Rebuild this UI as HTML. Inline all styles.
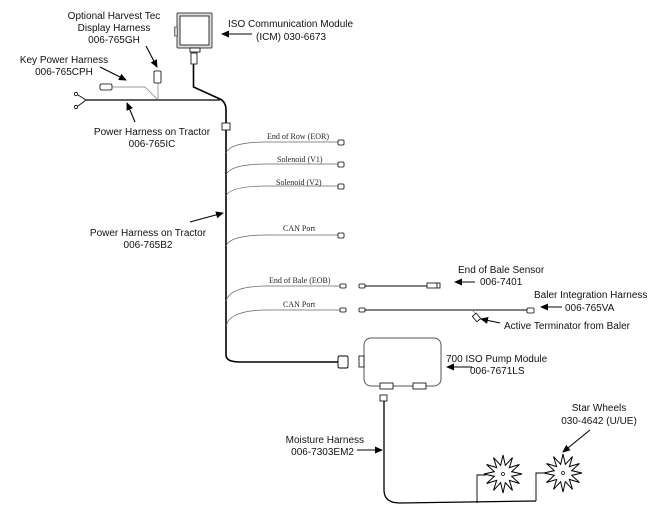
<!DOCTYPE html>
<html><head><style>
html,body{margin:0;padding:0;background:#fff;}
svg{display:block}
.s{font-family:"Liberation Sans",Arial,sans-serif;font-size:10px;fill:#111}
.r{font-family:"Liberation Serif",serif;font-size:8px;fill:#222}
</style></head><body>
<svg width="654" height="513" viewBox="0 0 654 513" xmlns="http://www.w3.org/2000/svg">
<defs>
<marker id="a" markerWidth="8" markerHeight="8" refX="7" refY="4" orient="auto" markerUnits="userSpaceOnUse">
<path d="M0,0.5 L8,4 L0,7.5 z" fill="#000"/></marker>
<polygon id="st" points="19,0 8.69,2.33 16.45,9.5 6.36,6.36 9.5,16.45 2.33,8.69 0,19 -2.33,8.69 -9.5,16.45 -6.36,6.36 -16.45,9.5 -8.69,2.33 -19,0 -8.69,-2.33 -16.45,-9.5 -6.36,-6.36 -9.5,-16.45 -2.33,-8.69 0,-19 2.33,-8.69 9.5,-16.45 6.36,-6.36 16.45,-9.5 8.69,-2.33" fill="#fff" stroke="#000" stroke-width="1"/>
</defs>
<g fill="none" stroke="#000">
<rect x="177" y="13" width="35" height="35" fill="#ddd" stroke="#444" rx="1"/>
<rect x="180" y="16" width="29" height="29" fill="#fff" stroke="#333"/>
<rect x="174.5" y="27" width="3" height="9" fill="#ccc" stroke="#444" stroke-width="0.7"/>
<rect x="190" y="48" width="10" height="4" fill="#fff" stroke-width="0.8"/>
<rect x="191" y="53" width="6" height="11" fill="#fff" stroke-width="0.8"/>
<path d="M193.5,64 V87 L220,99 Q226,102 226,110 V355 Q226,362 240,362 H338" stroke-width="1.6"/>
<path d="M86,100 H220" stroke-width="1.3"/>
<path d="M86,100 L78,95 M86,100 L78,106" stroke-width="0.8"/>
<circle cx="76" cy="94" r="1.7" stroke-width="0.8"/><circle cx="76" cy="107" r="1.7" stroke-width="0.8"/>
<rect x="100" y="84" width="12" height="6" rx="1.5" fill="#fff" stroke-width="0.8"/>
<path d="M112,87 H145 L158,100 M158,83 V100" stroke="#777" stroke-width="0.7"/>
<rect x="154" y="71" width="7" height="12" rx="1" fill="#fff" stroke-width="0.8"/>
<rect x="222" y="123" width="8" height="7" fill="#fff" stroke-width="0.8"/>
<g stroke="#666" stroke-width="0.7">
<path d="M226,153 Q230,142 267,142 H338"/>
<path d="M226,175 Q230,164 267,164 H338"/>
<path d="M226,196 Q230,186 267,186 H338"/>
<path d="M226,246 Q230,235 267,235 H338"/>
<path d="M226,301 Q230,286 267,286 H340"/>
<path d="M226,326 Q230,310 267,310 H340"/>
</g>
<g fill="#fff" stroke-width="0.8">
<rect x="338" y="140" width="6" height="5" rx="1"/>
<rect x="338" y="162" width="6" height="5" rx="1"/>
<rect x="338" y="184" width="6" height="5" rx="1"/>
<rect x="338" y="233" width="6" height="5" rx="1"/>
<rect x="340" y="284" width="6" height="4" rx="1"/>
<rect x="340" y="308" width="6" height="4" rx="1"/>
<rect x="359" y="284" width="6" height="4" rx="1"/>
<rect x="359" y="308" width="6" height="4" rx="1"/>
</g>
<path d="M365,286 H427 M365,310 H527" stroke-width="0.9"/>
<rect x="427" y="283" width="13" height="5" fill="#fff" stroke-width="0.8"/>
<line x1="437" y1="283" x2="437" y2="288" stroke-width="0.8"/>
<rect x="527" y="308" width="7" height="5" rx="1" fill="#fff" stroke-width="0.8"/>
<path d="M472,310 L477,315" stroke="#777" stroke-width="0.6"/>
<rect x="474" y="314" width="5" height="7" fill="#fff" stroke-width="0.8" transform="rotate(-40 476.5 317.5)"/>
<rect x="364" y="338" width="77" height="48" rx="7" fill="#fff" stroke="#555" stroke-width="1"/>
<rect x="338" y="356" width="10" height="12" rx="1.5" fill="#fff" stroke-width="0.9"/>
<rect x="359" y="356" width="5" height="11" fill="#fff" stroke-width="0.8"/>
<rect x="380" y="383" width="13" height="6" fill="#fff" stroke-width="0.8"/>
<rect x="413" y="383" width="13" height="6" fill="#fff" stroke-width="0.8"/>
<rect x="380" y="395" width="7" height="6" fill="#fff" stroke-width="0.8"/>
<path d="M384,401 V490 Q384,503 400,503 L536,501" stroke-width="1.3"/>
<path d="M477,503 V475 H486 M536,501 V473 H546" stroke-width="0.9"/>
</g>
<use href="#st" x="503" y="474"/>
<use href="#st" x="563" y="473"/>
<circle cx="503" cy="474" r="1.5" fill="none" stroke="#000" stroke-width="0.7"/>
<circle cx="563" cy="473" r="1.5" fill="none" stroke="#000" stroke-width="0.7"/>
<g stroke="#000" stroke-width="1.1" marker-end="url(#a)">
<line x1="252" y1="34" x2="222" y2="34"/>
<line x1="146" y1="46" x2="157" y2="67"/>
<line x1="100" y1="67" x2="126" y2="80"/>
<line x1="135" y1="122" x2="127" y2="103"/>
<line x1="190" y1="222" x2="223" y2="213"/>
<line x1="475" y1="282" x2="455" y2="282"/>
<line x1="562" y1="307" x2="541" y2="307"/>
<line x1="500" y1="323" x2="481" y2="319"/>
<line x1="472" y1="367" x2="447" y2="367"/>
<line x1="357" y1="450" x2="382" y2="450"/>
<line x1="590" y1="430" x2="563" y2="452"/>
</g>
<g class="s">
<text x="114" y="19" text-anchor="middle">Optional Harvest Tec</text>
<text x="114" y="31" text-anchor="middle">Display Harness</text>
<text x="114" y="43" text-anchor="middle">006-765GH</text>
<text x="64" y="63" text-anchor="middle">Key Power Harness</text>
<text x="64" y="75" text-anchor="middle">006-765CPH</text>
<text x="152" y="135" text-anchor="middle">Power Harness on Tractor</text>
<text x="152" y="147" text-anchor="middle">006-765IC</text>
<text x="228" y="27">ISO Communication Module</text>
<text x="256" y="40">(ICM) 030-6673</text>
<text x="148" y="236" text-anchor="middle">Power Harness on Tractor</text>
<text x="148" y="248" text-anchor="middle">006-765B2</text>
<text x="458" y="273">End of Bale Sensor</text>
<text x="480" y="285">006-7401</text>
<text x="534" y="298">Baler Integration Harness</text>
<text x="565" y="311">006-765VA</text>
<text x="504" y="329">Active Terminator from Baler</text>
<text x="446" y="362">700 ISO Pump Module</text>
<text x="470" y="374">006-7671LS</text>
<text x="599" y="411" text-anchor="middle">Star Wheels</text>
<text x="599" y="424" text-anchor="middle">030-4642 (U/UE)</text>
<text x="364" y="443" text-anchor="end">Moisture Harness</text>
<text x="354" y="455" text-anchor="end">006-7303EM2</text>
</g>
<g class="r">
<text x="267" y="139">End of Row (EOR)</text>
<text x="277" y="162">Solenoid (V1)</text>
<text x="276" y="185">Solenoid  (V2)</text>
<text x="283" y="231">CAN Port</text>
<text x="269" y="283">End of Bale (EOB)</text>
<text x="283" y="307">CAN Port</text>
</g>
</svg>
</body></html>
